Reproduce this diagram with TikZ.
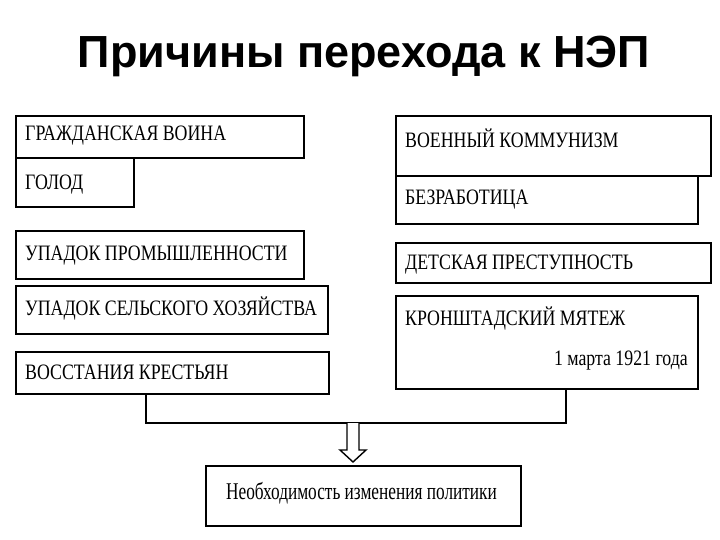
\documentclass[tikz,border=0pt]{standalone}
\usepackage{fontspec}
\setmainfont{Liberation Serif}
\newfontfamily\titlefont{Liberation Sans}
\newfontfamily\condfont[FakeStretch=0.81]{Liberation Serif}
\newfontfamily\condfontb[FakeStretch=0.72]{Liberation Serif}
\usetikzlibrary{calc}
\begin{document}
\begin{tikzpicture}[x=1pt,y=-1pt,
  box/.style={draw=black,line width=1.6pt,rectangle,inner sep=0pt,anchor=north west},
  lbl/.style={inner sep=0pt,font=\condfont\fontsize{22}{24}\selectfont,anchor=base west},
  wire/.style={draw=black,line width=1.2pt},
  hollow/.style={draw=black,line width=1.4pt,fill=white,line join=miter}]
\useasboundingbox[fill=white] (0,0) rectangle (720,540);
\node[inner sep=0pt,anchor=base,font=\titlefont\bfseries\fontsize{45}{48}\selectfont] (title) at (364,68) {Причины перехода к НЭП};
% left column
\node[box,minimum width=288pt,minimum height=42pt] (gv) at (15,115) {};
\node[box,minimum width=118pt,minimum height=49pt] (gl) at (15,157) {};
\node[box,minimum width=288pt,minimum height=48pt] (up) at (15,230) {};
\node[box,minimum width=312pt,minimum height=48pt] (us) at (15,285) {};
\node[box,minimum width=313pt,minimum height=42pt] (vk) at (15,351) {};
% right column
\node[box,minimum width=315pt,minimum height=60pt] (wk) at (395,115) {};
\node[box,minimum width=302pt,minimum height=48pt] (bz) at (395,175) {};
\node[box,minimum width=315pt,minimum height=40pt] (dp) at (395,242) {};
\node[box,minimum width=302pt,minimum height=93pt] (km) at (395,295) {};
% goal
\node[box,minimum width=315pt,minimum height=60pt] (goal) at (205,465) {};
% texts
\node[lbl] (tgv) at (25,140.5) {ГРАЖДАНСКАЯ ВОИНА};
\node[lbl] (tgl) at (25,189.5) {ГОЛОД};
\node[lbl] (tup) at (25,260.5) {УПАДОК ПРОМЫШЛЕННОСТИ};
\node[lbl] (tus) at (25,315.5) {УПАДОК СЕЛЬСКОГО ХОЗЯЙСТВА};
\node[lbl] (tvk) at (25,379.5) {ВОССТАНИЯ КРЕСТЬЯН};
\node[lbl] (twk) at (405,147.5) {ВОЕННЫЙ КОММУНИЗМ};
\node[lbl] (tbz) at (405,204.5) {БЕЗРАБОТИЦА};
\node[lbl] (tdp) at (405,269.5) {ДЕТСКАЯ ПРЕСТУПНОСТЬ};
\node[lbl] (tkm) at (405,325.5) {КРОНШТАДСКИЙ МЯТЕЖ};
\node[lbl,anchor=base east] (tdate) at (688,365) {1 марта 1921 года};
\node[inner sep=0pt,anchor=base,font=\condfontb\fontsize{24}{26}\selectfont] (tgoal) at (361.5,499) {Необходимость изменения политики};
% connectors
\coordinate (j1) at (146,423);
\coordinate (j2) at (566,423);
\coordinate (ja) at (353,423);
\draw[wire] (vk.south -| j1) -- (j1) -- (j2) -- (km.south -| j2);
\draw[hollow] ($(ja)+(-6,0)$) -- ($(ja)+(-6,27)$) -- ($(ja)+(-13,27)$) -- ($(goal.north -| ja)+(0,-3)$) -- ($(ja)+(13,27)$) -- ($(ja)+(6,27)$) -- ($(ja)+(6,0)$);
\end{tikzpicture}
\end{document}
